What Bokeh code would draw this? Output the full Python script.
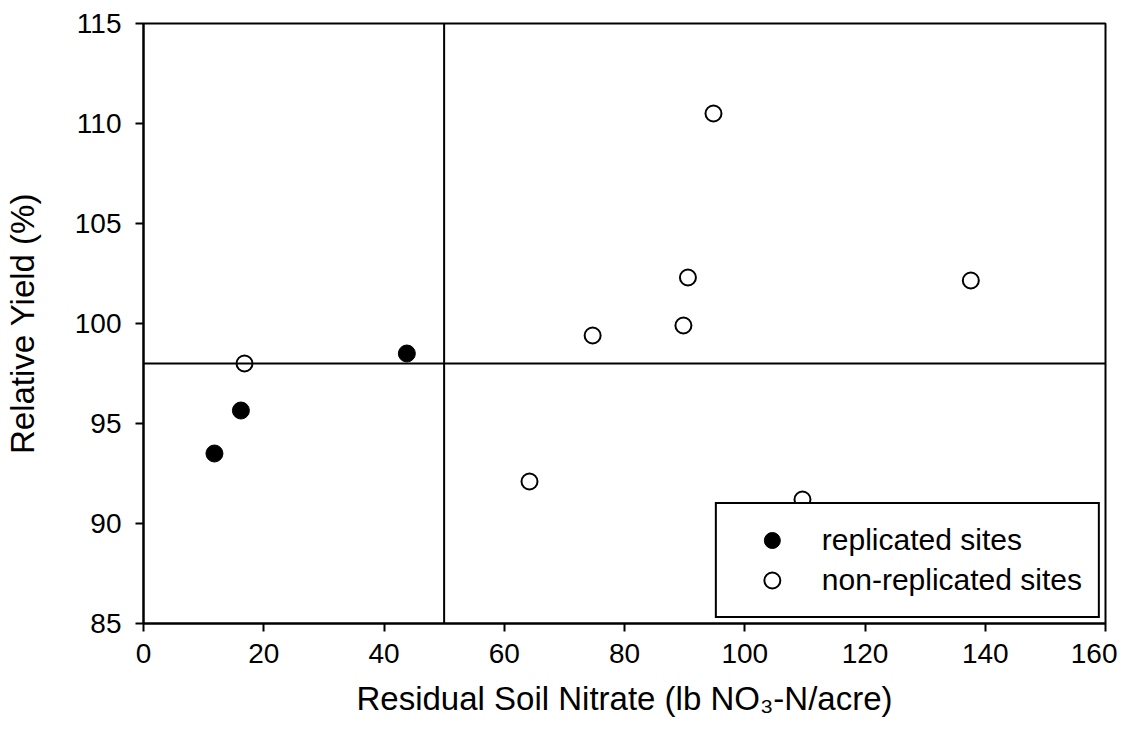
from bokeh.plotting import figure
from bokeh.models import Span, Legend, LegendItem, FixedTicker
from bokeh.embed import file_html
from bokeh.resources import INLINE

# data
rep_x = [11.8, 16.2, 43.8]
rep_y = [93.5, 95.65, 98.5]
non_x = [16.8, 64.2, 74.7, 89.8, 90.55, 94.8, 109.6, 137.6]
non_y = [98.0, 92.1, 99.4, 99.9, 102.3, 110.5, 91.2, 102.15]
x_ticks = [0, 20, 40, 60, 80, 100, 120, 140, 160]
y_ticks = [85, 90, 95, 100, 105, 110, 115]
x_threshold = 50
y_threshold = 98

FONT = "Liberation Sans"

p = figure(frame_width=962, frame_height=600, x_range=(0, 160), y_range=(85, 115),
           output_backend="svg", toolbar_location=None,
           min_border_left=141, min_border_top=23, min_border_right=12, min_border_bottom=100)
p.background_fill_color = "white"
p.border_fill_color = "white"
p.grid.visible = False
p.outline_line_color = "black"
p.outline_line_width = 2
p.outline_line_alpha = 1

for ax in (p.xaxis[0], p.yaxis[0]):
    ax.axis_line_width = 2
    ax.axis_line_color = "black"
    ax.major_tick_line_width = 2
    ax.major_tick_line_color = "black"
    ax.major_tick_out = 8
    ax.major_tick_in = 0
    ax.minor_tick_line_color = None
    ax.major_label_text_font = FONT
    ax.major_label_text_font_size = "28px"
    ax.major_label_text_color = "black"
    ax.axis_label_text_font = FONT
    ax.axis_label_text_font_size = "33px"
    ax.axis_label_text_font_style = "normal"
    ax.axis_label_text_color = "black"

p.xaxis[0].ticker = FixedTicker(ticks=x_ticks)
p.yaxis[0].ticker = FixedTicker(ticks=y_ticks)
p.xaxis[0].major_label_standoff = 12
p.yaxis[0].major_label_standoff = 14
p.xaxis[0].axis_label = "Residual Soil Nitrate (lb NO\u2083-N/acre)"
p.yaxis[0].axis_label = "Relative Yield (%)"
p.xaxis[0].axis_label_standoff = 14
p.yaxis[0].axis_label_standoff = 31

p.add_layout(Span(location=x_threshold, dimension="height", line_color="black", line_width=2))
p.add_layout(Span(location=y_threshold, dimension="width", line_color="black", line_width=2))

r1 = p.scatter(rep_x, rep_y, marker="circle", size=17, fill_color="black", line_color="black")
r2 = p.scatter(non_x, non_y, marker="circle", size=16, fill_color="white", line_color="black", line_width=2)

legend = Legend(items=[LegendItem(label="replicated sites", renderers=[r1]),
                       LegendItem(label="non-replicated sites", renderers=[r2])],
                location="bottom_right")
legend.label_text_font = FONT
legend.label_text_font_size = "30px"
legend.label_text_color = "black"
legend.border_line_color = "black"
legend.border_line_width = 2
legend.border_line_alpha = 1
legend.background_fill_color = "white"
legend.background_fill_alpha = 1
legend.padding = 16
legend.spacing = 0
legend.margin = 5
legend.glyph_width = 78
legend.glyph_height = 40
legend.label_standoff = 11
p.add_layout(legend)

open("out.html", "w").write(file_html(p, INLINE))
